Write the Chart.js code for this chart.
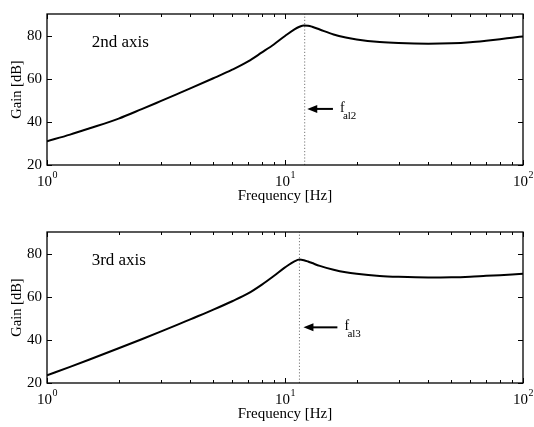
<!DOCTYPE html>
<html>
<head>
<meta charset="utf-8">
<script src="https://cdn.jsdelivr.net/npm/chart.js@4.4.1/dist/chart.umd.min.js"></script>
<style>
    html, body { margin: 0; padding: 0; background: #fff; }
    #wrap { position: relative; width: 534px; height: 427px; overflow: hidden; }
    #wrap canvas { position: absolute; left: 0; }
</style>
</head>
<body>
<div id="wrap">
    <canvas id="chartAxis2" width="534" height="209" style="top:0px"></canvas>
    <canvas id="chartAxis3" width="534" height="209" style="top:218px"></canvas>
</div>
<script>
// Frequency points [Hz] shared by both curves
const freqHz = [1, 1.25, 1.5, 2, 2.5, 3, 3.5, 4, 5, 6, 7, 8, 9, 10, 11, 11.5, 12, 12.5, 13, 14, 16, 18, 20, 25, 30, 40, 50, 60, 70, 80, 90, 100];

// Gain [dB]
const gainAxis2 = [31, 34.1, 36.9, 41.5, 45.9, 49.6, 52.75, 55.5, 60.2, 64.2, 68.0, 72.2, 76.0, 79.8, 83.0, 84.1, 84.7, 84.6, 84.1, 82.8, 80.5, 79.1, 78.2, 77.0, 76.5, 76.2, 76.4, 76.9, 77.6, 78.3, 79.0, 79.6];
const gainAxis3 = [23.6, 27.5, 30.8, 36.1, 40.3, 43.8, 46.8, 49.5, 54.0, 57.9, 61.5, 65.6, 69.7, 73.6, 76.5, 77.2, 76.9, 76.3, 75.6, 74.3, 72.5, 71.3, 70.6, 69.6, 69.2, 68.9, 69.0, 69.3, 69.7, 70.0, 70.3, 70.6];

// Resonance frequencies marked with dotted lines
const falAxis2 = 12.1;
const falAxis3 = 11.5;

// Axis ticks
const xDecades = [1, 10, 100];
const xExponents = ["0", "1", "2"];
const yTicks = [20, 40, 60, 80];
const yMin = 20, yMax = 90;

const serif = "'Liberation Serif', 'Times New Roman', Times, serif";

// Box, inward ticks, decade labels and annotations (MATLAB look)
const matlabFrame = {
    id: 'matlabFrame',
    afterDraw(chart, args, opts) {
        const ctx = chart.ctx;
        const a = chart.chartArea;
        const xs = chart.scales.x;
        const ys = chart.scales.y;
        ctx.save();
        ctx.strokeStyle = '#000';
        ctx.fillStyle = '#000';
        ctx.lineWidth = 1.3;
        ctx.strokeRect(a.left, a.top, a.right - a.left, a.bottom - a.top);

        // x ticks, major and minor, on bottom and top
        ctx.lineWidth = 1;
        ctx.beginPath();
        xDecades.forEach(function (d, i) {
            for (let m = 1; m <= 9; m++) {
                const v = d * m;
                if (v > 100 || (m > 1 && i === xDecades.length - 1)) continue;
                const px = Math.round(xs.getPixelForValue(v)) + 0.5;
                const len = m === 1 ? 5 : 3;
                ctx.moveTo(px, a.bottom); ctx.lineTo(px, a.bottom - len);
                ctx.moveTo(px, a.top); ctx.lineTo(px, a.top + len);
            }
        });
        yTicks.forEach(function (v) {
            const py = Math.round(ys.getPixelForValue(v)) + 0.5;
            ctx.moveTo(a.left, py); ctx.lineTo(a.left + 5, py);
            ctx.moveTo(a.right, py); ctx.lineTo(a.right - 5, py);
        });
        ctx.stroke();

        // decade labels 10^n
        ctx.textBaseline = 'alphabetic';
        xDecades.forEach(function (d, i) {
            const px = xs.getPixelForValue(d);
            ctx.font = '15px ' + serif;
            const w1 = ctx.measureText('10').width;
            ctx.font = '10px ' + serif;
            const w2 = ctx.measureText(xExponents[i]).width;
            const x0 = px - (w1 + w2) / 2;
            ctx.font = '15px ' + serif;
            ctx.textAlign = 'left';
            ctx.fillText('10', x0, a.bottom + 21);
            ctx.font = '10px ' + serif;
            ctx.fillText(xExponents[i], x0 + w1 + 0.5, a.bottom + 13);
        });

        // panel label
        ctx.font = '17px ' + serif;
        ctx.textAlign = 'left';
        ctx.fillText(opts.title, xs.getPixelForValue(opts.titleF), ys.getPixelForValue(opts.titleDb));

        // arrow pointing at the resonance line
        const tipX = xs.getPixelForValue(opts.arrowTipF);
        const tailX = xs.getPixelForValue(opts.arrowTailF);
        const ay = ys.getPixelForValue(opts.arrowDb);
        ctx.lineWidth = 2;
        ctx.beginPath();
        ctx.moveTo(tailX, ay);
        ctx.lineTo(tipX + 6, ay);
        ctx.stroke();
        ctx.beginPath();
        ctx.moveTo(tipX, ay);
        ctx.lineTo(tipX + 10, ay - 4);
        ctx.lineTo(tipX + 10, ay + 4);
        ctx.closePath();
        ctx.fill();

        // f with subscript
        const fx = tailX + 7;
        ctx.font = '14px ' + serif;
        ctx.fillText('f', fx, ay + 3);
        ctx.font = '11px ' + serif;
        ctx.fillText(opts.sub, fx + 3, ay + 10);
        ctx.restore();
    }
};

function makeChart(canvasId, gain, fal, frameOpts) {
    const ctx = document.getElementById(canvasId).getContext('2d');
    return new Chart(ctx, {
        type: 'line',
        data: {
            datasets: [{
                data: freqHz.map(function (f, i) { return { x: f, y: gain[i] }; }),
                borderColor: '#000',
                borderWidth: 2,
                pointRadius: 0,
                cubicInterpolationMode: 'monotone',
                fill: false
            }, {
                data: [{ x: fal, y: yMin }, { x: fal, y: yMax }],
                borderColor: '#777',
                borderWidth: 1,
                borderDash: [1.2, 2],
                pointRadius: 0,
                fill: false
            }]
        },
        options: {
            responsive: false,
            animation: false,
            events: [],
            layout: { padding: { top: 8, right: 11, left: 0, bottom: 0 } },
            plugins: {
                legend: { display: false },
                tooltip: { enabled: false },
                matlabFrame: frameOpts
            },
            scales: {
                x: {
                    type: 'logarithmic',
                    min: 1,
                    max: 100,
                    grid: { display: false, drawTicks: false },
                    border: { display: false },
                    ticks: { display: false },
                    title: {
                        display: true,
                        text: 'Frequency [Hz]',
                        color: '#000',
                        font: { family: serif, size: 15 },
                        padding: { top: 0, bottom: 4 }
                    },
                    afterFit: function (scale) { scale.height = 44; }
                },
                y: {
                    type: 'linear',
                    min: yMin,
                    max: yMax,
                    grid: { display: false, drawTicks: false },
                    border: { display: false },
                    afterBuildTicks: function (scale) {
                        scale.ticks = yTicks.map(function (v) { return { value: v }; });
                    },
                    ticks: {
                        color: '#000',
                        padding: 5,
                        font: { family: serif, size: 15 }
                    },
                    title: {
                        display: true,
                        text: 'Gain [dB]',
                        color: '#000',
                        font: { family: serif, size: 14.5 },
                        padding: { top: 8, bottom: 0 }
                    },
                    afterFit: function (scale) { scale.width = 47; }
                }
            }
        },
        plugins: [matlabFrame]
    });
}

makeChart('chartAxis2', gainAxis2, falAxis2, {
    title: '2nd axis', titleF: 1.54, titleDb: 74.7,
    arrowTipF: 12.4, arrowTailF: 15.9, arrowDb: 46, sub: 'al2'
});
makeChart('chartAxis3', gainAxis3, falAxis3, {
    title: '3rd axis', titleF: 1.54, titleDb: 74.7,
    arrowTipF: 11.95, arrowTailF: 16.6, arrowDb: 45.8, sub: 'al3'
});
</script>
</body>
</html>
